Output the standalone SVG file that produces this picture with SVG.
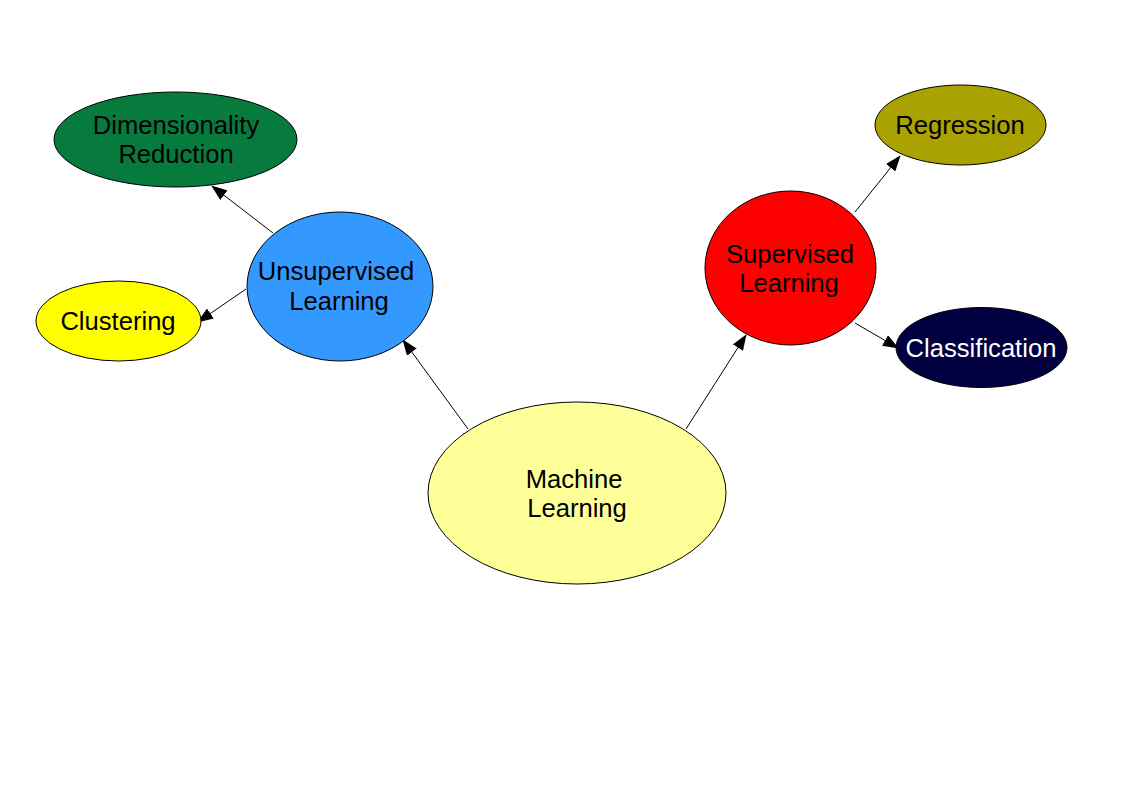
<svg xmlns="http://www.w3.org/2000/svg" width="1123" height="794" viewBox="0 0 1123 794">
<defs>
<marker id="ah" viewBox="0 0 16 12" refX="15" refY="6" markerWidth="16" markerHeight="12" markerUnits="userSpaceOnUse" orient="auto">
<path d="M0,0 L16,6 L0,12 Z" fill="#000"/>
</marker>
<style>
.n{stroke:#000;stroke-width:1}
.t{font-family:"Liberation Sans",Arial,sans-serif;font-size:25.6px;text-anchor:middle;fill:#000}
.c{stroke:#000;stroke-width:1;fill:none;marker-end:url(#ah)}
</style>
</defs>
<rect width="1123" height="794" fill="#fff"/>
<g id="connectors">
<line class="c" x1="468" y1="429" x2="403" y2="340"/>
<line class="c" x1="686" y1="429" x2="746" y2="335"/>
<line class="c" x1="273" y1="233" x2="212" y2="186"/>
<line class="c" x1="246" y1="289" x2="198" y2="322"/>
<line class="c" x1="855" y1="212" x2="900" y2="156"/>
<line class="c" x1="855" y1="323" x2="898" y2="348"/>
</g>
<g id="ml">
<ellipse class="n" cx="577" cy="493" rx="149" ry="91" fill="#ffff99"/>
<text class="t" x="574" y="488">Machine</text>
<text class="t" x="577" y="517">Learning</text>
</g>
<g id="unsupervised">
<ellipse class="n" cx="340" cy="286.5" rx="93" ry="74.5" fill="#3399ff"/>
<text class="t" x="336" y="280">Unsupervised</text>
<text class="t" x="339" y="310">Learning</text>
</g>
<g id="dimred">
<ellipse class="n" cx="175.5" cy="139.5" rx="121.5" ry="47.5" fill="#077a3e"/>
<text class="t" x="176" y="134">Dimensionality</text>
<text class="t" x="176" y="163">Reduction</text>
</g>
<g id="clustering">
<ellipse class="n" cx="118.5" cy="321" rx="82.5" ry="40" fill="#ffff00"/>
<text class="t" x="118" y="330">Clustering</text>
</g>
<g id="supervised">
<ellipse class="n" cx="790.5" cy="268" rx="85.5" ry="77" fill="#ff0000"/>
<text class="t" x="790" y="263">Supervised</text>
<text class="t" x="789" y="292">Learning</text>
</g>
<g id="regression">
<ellipse class="n" cx="960.5" cy="125" rx="85.5" ry="40" fill="#aaa200"/>
<text class="t" x="960" y="134">Regression</text>
</g>
<g id="classification">
<ellipse class="n" cx="981.5" cy="347.5" rx="85.5" ry="40" fill="#000040"/>
<text class="t" x="981" y="357" style="fill:#fff">Classification</text>
</g>
</svg>
